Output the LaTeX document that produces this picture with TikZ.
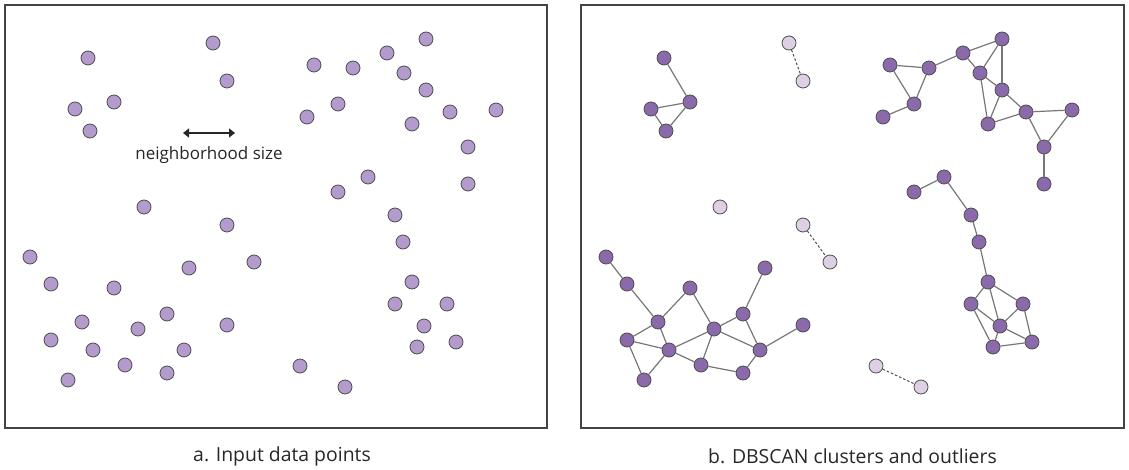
\documentclass[tikz,border=0pt]{standalone}
\usepackage{fontspec}
\setmainfont{Open Sans}
\usetikzlibrary{arrows.meta}
\definecolor{ptin}{HTML}{B49BCD}
\definecolor{ptcl}{HTML}{8A6AAA}
\definecolor{ptout}{HTML}{DDD0E4}
\definecolor{ptline}{HTML}{4D4D4D}
\definecolor{edgecol}{HTML}{777777}
\definecolor{framecol}{HTML}{444444}
\tikzset{
  dot/.style={circle,draw=ptline,line width=0.8pt,minimum size=14pt,inner sep=0pt},
  inpt/.style={dot,fill=ptin},
  clpt/.style={dot,fill=ptcl},
  outpt/.style={dot,fill=ptout},
  link/.style={draw=edgecol,line width=1.2pt},
  outlink/.style={draw=ptline,line width=1pt,dash pattern=on 2.5pt off 2pt},
  panel/.style={draw=framecol,line width=1.3pt},
  caption/.style={font=\fontsize{19.4}{23}\selectfont,text=black!85},
}
\begin{document}
\begin{tikzpicture}[x=1pt,y=-1pt]
\useasboundingbox (0,0) rectangle (1129,470);
% panels
\node[panel,minimum width=542pt,minimum height=423pt,inner sep=0pt] (pa) at (276,216.5) {};
\node[panel,minimum width=543pt,minimum height=423pt,inner sep=0pt] (pb) at (852.5,216.5) {};
\node[caption] (capa) at (282,456) {a. Input data points};
\node[caption] (capb) at (852.5,456) {b. DBSCAN clusters and outliers};
% clustered points
\foreach \n/\x/\y in {A1/88/58,A2/114/102,A3/75/109,A4/90/131,
  B1/314/65,B2/353/68,B3/387/53,B4/426/39,B5/404/73,B6/426/90,B7/338/104,B8/307/117,B9/412/124,B10/450/112,B11/496/110,B12/468/147,B13/468/184,
  C1/338/192,C2/368/177,C3/395/215,C4/403/242,C5/412/282,C6/395/304,C7/447/304,C8/424/326,C9/456/342,C10/417/347,
  D1/30/257,D2/51/284,D3/114/288,D4/189/268,D5/167/314,D6/82/322,D7/138/329,D8/227/325,D9/51/340,D10/93/350,D11/184/350,D12/125/365,D13/167/373,D14/68/380}{
  \node[inpt] (l\n) at (\x,\y) {};
  \node[clpt] (r\n) at (\x+576,\y) {};
}
% outliers
\foreach \n/\x/\y in {O1/213/43,O2/227/81,O3/144/207,O4/227/225,O5/254/262,O6/300/366,O7/345/387}{
  \node[inpt] (l\n) at (\x,\y) {};
  \node[outpt] (r\n) at (\x+576,\y) {};
}
% neighborhood size
\coordinate (nl) at (183,133);
\coordinate (nr) at (235,133);
\draw[draw=black!85,line width=1.3pt,{Triangle[length=6pt,width=9pt]}-{Triangle[length=6pt,width=9pt]}] (nl) -- (nr);
\node[font=\fontsize{17}{20}\selectfont,text=black!85] (nlab) at (209,155.5) {neighborhood size};
% cluster edges
\foreach \a/\b in {A1/A2,A3/A2,A2/A4,A3/A4,
  B1/B2,B1/B7,B2/B7,B7/B8,B2/B3,B3/B4,B3/B5,B4/B5,B4/B6,B5/B6,B5/B9,B6/B9,B6/B10,B9/B10,B10/B11,B10/B12,B11/B12,B12/B13,
  C1/C2,C2/C3,C3/C4,C4/C5,C5/C6,C5/C7,C5/C8,C6/C8,C6/C10,C7/C8,C7/C9,C8/C9,C8/C10,C10/C9,
  D1/D2,D2/D6,D3/D6,D3/D7,D6/D9,D6/D10,D9/D10,D9/D14,D10/D14,D10/D7,D10/D12,D7/D12,D7/D5,D7/D11,D5/D4,D5/D11,D12/D13,D13/D11,D11/D8}{
  \path[link] (r\a) -- (r\b);
}
% outlier pairs
\foreach \a/\b in {O1/O2,O4/O5,O6/O7}{
  \path[outlink] (r\a) -- (r\b);
}
\end{tikzpicture}
\end{document}
